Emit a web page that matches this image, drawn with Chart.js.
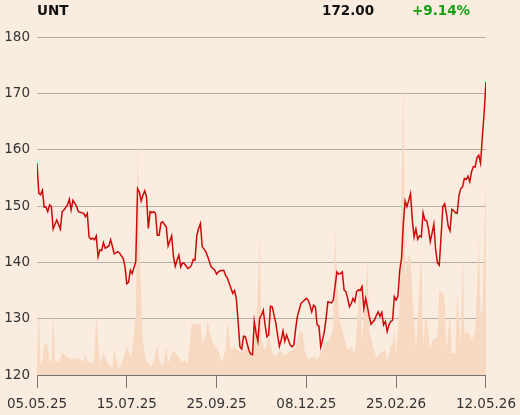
<!DOCTYPE html>
<html lang="ru">
    <head>
        <meta charset="UTF-8">
        <title>UNT</title>
        <script src="https://cdn.jsdelivr.net/npm/chart.js"></script>
        <style>
            body {
                margin: 0;
                background-color: #fbece0;
            }
            .wrap {
                position: relative;
                width: 520px;
                height: 415px;
            }
            .wrap canvas {
                position: absolute;
                left: 0;
                top: 0;
            }
            .head {
                position: absolute;
                top: 2px;
                font-family: 'DejaVu Sans';
                font-weight: bold;
                font-size: 13.5px;
                line-height: 16px;
                color: #111;
                white-space: nowrap;
            }
            #ticker { left: 37px; }
            #price { left: 322px; }
            #change { left: 412px; color: #14a014; }
        </style>
    </head>
    <body>
        <div class="wrap">
            <canvas id="stockChart" width="520" height="415"></canvas>
            <div class="head" id="ticker">UNT</div>
            <div class="head" id="price">172.00</div>
            <div class="head" id="change">+9.14%</div>
        </div>
        <script>
            // торговые дни от 05.05.25 (0) до 12.05.26 (250)
            const tickDays = [0, 50, 100, 150, 200, 250];
            const tickLabels = ['05.05.25', '15.07.25', '25.09.25', '08.12.25', '25.02.26', '12.05.26'];

            const priceDays = [
                0, 1, 2, 3, 4, 5, 6, 7, 8, 9,
                11, 13, 14, 15, 17, 18, 19, 20, 22, 23,
                26, 27, 28, 29, 30, 31, 32, 33, 34, 35,
                36, 37, 38, 40, 41, 42, 43, 45, 46, 48,
                49, 50, 51, 52, 53, 55, 56, 57, 58, 59,
                60, 61, 62, 63, 64, 65, 66, 67, 68, 69,
                70, 71, 72, 73, 75, 76, 77, 78, 79, 80,
                81, 82, 84, 85, 86, 87, 88, 89, 90, 91,
                92, 94, 95, 96, 97, 98, 99, 100, 101, 102,
                104, 105, 106, 107, 109, 110, 111, 112, 113, 114,
                115, 116, 117, 118, 119, 120, 121, 122, 123, 124,
                125, 126, 127, 128, 129, 130, 131, 132, 133, 134,
                135, 136, 137, 138, 139, 140, 141, 142, 143, 144,
                145, 147, 148, 150, 151, 152, 153, 154, 155, 156,
                157, 158, 159, 160, 161, 162, 164, 165, 167, 168,
                169, 170, 171, 172, 173, 174, 175, 176, 177, 178,
                179, 180, 181, 182, 183, 184, 185, 186, 188, 189,
                190, 191, 192, 193, 194, 195, 196, 197, 198, 199,
                200, 201, 202, 203, 204, 205, 206, 207, 208, 209,
                210, 211, 212, 213, 214, 215, 216, 217, 218, 219,
                220, 221, 222, 223, 224, 225, 226, 227, 228, 229,
                230, 231, 232, 233, 234, 235, 236, 237, 238, 239,
                240, 241, 242, 243, 244, 245, 246, 247, 248, 249, 250
            ];
            const prices = [
                157.6, 152.3, 152.0, 152.8, 149.8, 149.8, 149.0, 150.2, 149.9, 145.9,
                147.5, 145.9, 149.0, 149.3, 150.2, 151.2, 149.3, 151.0, 150.0, 149.0,
                148.7, 148.1, 148.7, 144.5, 144.1, 144.3, 144.0, 144.7, 141.0, 142.2,
                142.1, 143.5, 142.5, 142.9, 144.0, 142.8, 141.5, 141.9, 141.6, 140.7,
                139.2, 136.2, 136.5, 138.6, 138.0, 140.1, 153.1, 152.5, 150.9, 151.9,
                152.7, 151.6, 146.0, 149.0, 148.8, 149.0, 148.7, 144.8, 144.8, 147.0,
                147.2, 146.7, 146.3, 142.9, 144.7, 141.0, 139.3, 140.4, 141.3, 139.2,
                139.9, 139.8, 138.9, 139.1, 139.5, 140.5, 140.4, 144.8, 146.0, 146.9,
                142.8, 141.9, 141.1, 140.1, 139.2, 138.9, 138.6, 137.9, 138.3, 138.5,
                138.6, 137.7, 137.2, 136.3, 134.5, 135.0, 133.6, 129.5, 125.0, 124.6,
                126.9, 126.8, 125.6, 124.4, 123.7, 123.6, 129.5, 127.4, 126.0, 130.1,
                130.6, 131.5, 128.9, 126.8, 127.1, 132.2, 132.1, 130.6, 129.2, 127.1,
                125.1, 126.2, 127.8, 126.0, 127.1, 126.2, 125.3, 125.0, 125.3, 128.1,
                130.4, 132.7, 133.0, 133.6, 133.3, 132.4, 131.2, 132.4, 132.1, 128.9,
                128.7, 125.0, 126.2, 127.7, 130.1, 133.0, 132.8, 133.3, 138.3, 137.9,
                138.0, 138.3, 135.1, 134.8, 133.6, 132.1, 132.7, 133.6, 133.0, 134.8,
                135.1, 135.0, 135.7, 131.8, 133.6, 132.1, 130.4, 129.0, 129.8, 130.6,
                131.2, 130.4, 131.1, 128.9, 129.5, 127.7, 128.9, 129.5, 129.7, 133.9,
                133.3, 134.0, 138.6, 140.7, 146.9, 150.9, 149.9, 151.0, 152.2, 147.5,
                144.5, 145.9, 144.1, 144.7, 144.5, 148.8, 147.5, 147.4, 145.9, 143.7,
                145.2, 146.8, 142.2, 139.9, 139.5, 144.5, 149.9, 150.4, 148.7, 146.4,
                145.6, 149.4, 149.2, 148.8, 148.7, 151.9, 153.1, 153.4, 154.9, 154.7,
                155.3, 154.3, 156.1, 157.0, 156.9, 158.6, 159.0, 157.6, 162.3, 166.5, 172.0
            ];

            // объём торгов (условные единицы)
            const volumeDays = [
                0, 1, 2, 3, 4, 6, 7, 8, 9, 10,
                12, 14, 16, 17, 19, 21, 23, 26, 27, 28,
                31, 32, 33, 35, 37, 40, 42, 43, 45, 47,
                50, 52, 53, 55, 56, 57, 59, 61, 64, 67,
                68, 70, 72, 73, 76, 78, 81, 82, 84, 86,
                88, 90, 91, 92, 94, 95, 97, 99, 101, 103,
                105, 106, 108, 110, 112, 114, 117, 120, 121, 122,
                124, 125, 127, 129, 131, 133, 135, 138, 140, 142,
                144, 146, 148, 149, 151, 153, 155, 156, 159, 160,
                161, 163, 165, 166, 168, 169, 171, 173, 175, 177,
                180, 181, 184, 185, 187, 189, 191, 194, 195, 197,
                198, 199, 200, 202, 204, 205, 207, 208, 209, 211,
                212, 214, 215, 216, 217, 219, 220, 223, 224, 226,
                227, 228, 230, 231, 233, 234, 236, 237, 238, 240,
                242, 244, 245, 246, 247, 248, 250
            ];
            const volumes = [
                20, 67, 10, 15, 32, 30, 12, 15, 66, 15,
                12, 22, 20, 18, 16, 17, 16, 14, 22, 13,
                12, 20, 59, 12, 22, 10, 7, 27, 7, 10,
                30, 18, 23, 60, 235, 130, 32, 13, 8, 30,
                15, 8, 28, 12, 25, 20, 12, 15, 12, 50,
                52, 50, 52, 32, 40, 55, 38, 28, 25, 12,
                25, 55, 25, 28, 25, 22, 28, 17, 68, 40,
                138, 35, 25, 40, 22, 18, 25, 20, 22, 25,
                28, 42, 43, 25, 15, 18, 17, 15, 25, 35,
                32, 35, 48, 143, 65, 52, 38, 25, 28, 22,
                98, 32, 115, 45, 28, 18, 22, 25, 15, 30,
                30, 48, 20, 70, 293, 98, 122, 115, 82, 25,
                55, 127, 28, 55, 58, 25, 35, 38, 85, 82,
                75, 25, 62, 22, 22, 82, 32, 125, 42, 43,
                35, 42, 85, 138, 62, 65, 200
            ];

            const pricePoints = priceDays.map(function(d, i) { return {x: d, y: prices[i]}; });
            const volumePoints = volumeDays.map(function(d, i) { return {x: d, y: volumes[i]}; });

            const tickFont = {family: 'DejaVu Sans', size: 13.5};

            const ctx = document.getElementById('stockChart').getContext('2d');
            const stockChart = new Chart(ctx, {
                type: 'line',
                data: {
                    datasets: [{
                        label: 'UNT',
                        data: pricePoints,
                        yAxisID: 'y',
                        borderColor: '#cc0a0a',
                        borderWidth: 1.5,
                        pointRadius: 0,
                        tension: 0,
                        fill: false,
                        order: 1
                    }, {
                        label: 'Объём',
                        data: volumePoints,
                        yAxisID: 'vol',
                        borderWidth: 0,
                        backgroundColor: '#f7d9c2',
                        pointRadius: 0,
                        tension: 0,
                        fill: 'start',
                        order: 2
                    }]
                },
                options: {
                    responsive: false,
                    devicePixelRatio: 1,
                    animation: false,
                    layout: {padding: {top: 37, right: 34, left: 0, bottom: 0}},
                    plugins: {legend: {display: false}, tooltip: {enabled: false}},
                    scales: {
                        x: {
                            type: 'linear',
                            min: 0,
                            max: 250,
                            afterBuildTicks: function(scale) {
                                scale.ticks = tickDays.map(function(v) { return {value: v}; });
                            },
                            afterFit: function(scale) { scale.height = 40; },
                            ticks: {
                                autoSkip: false,
                                maxRotation: 0,
                                padding: 4,
                                color: '#333',
                                font: {family: 'DejaVu Sans', size: 13.5, lineHeight: 1.8},
                                callback: function(v) { return tickLabels[tickDays.indexOf(v)]; }
                            },
                            grid: {
                                drawOnChartArea: false,
                                drawTicks: true,
                                tickLength: 13,
                                color: '#7a7470'
                            },
                            border: {display: true, color: '#7a7470'}
                        },
                        y: {
                            position: 'left',
                            min: 120,
                            max: 180,
                            afterFit: function(scale) { scale.width = 37; },
                            ticks: {stepSize: 10, padding: 7, color: '#333', font: tickFont},
                            grid: {color: '#b5ada6', drawTicks: false},
                            border: {display: false}
                        },
                        vol: {
                            display: false,
                            min: 0,
                            max: 338
                        }
                    }
                }
            });
        </script>
    </body>
</html>
